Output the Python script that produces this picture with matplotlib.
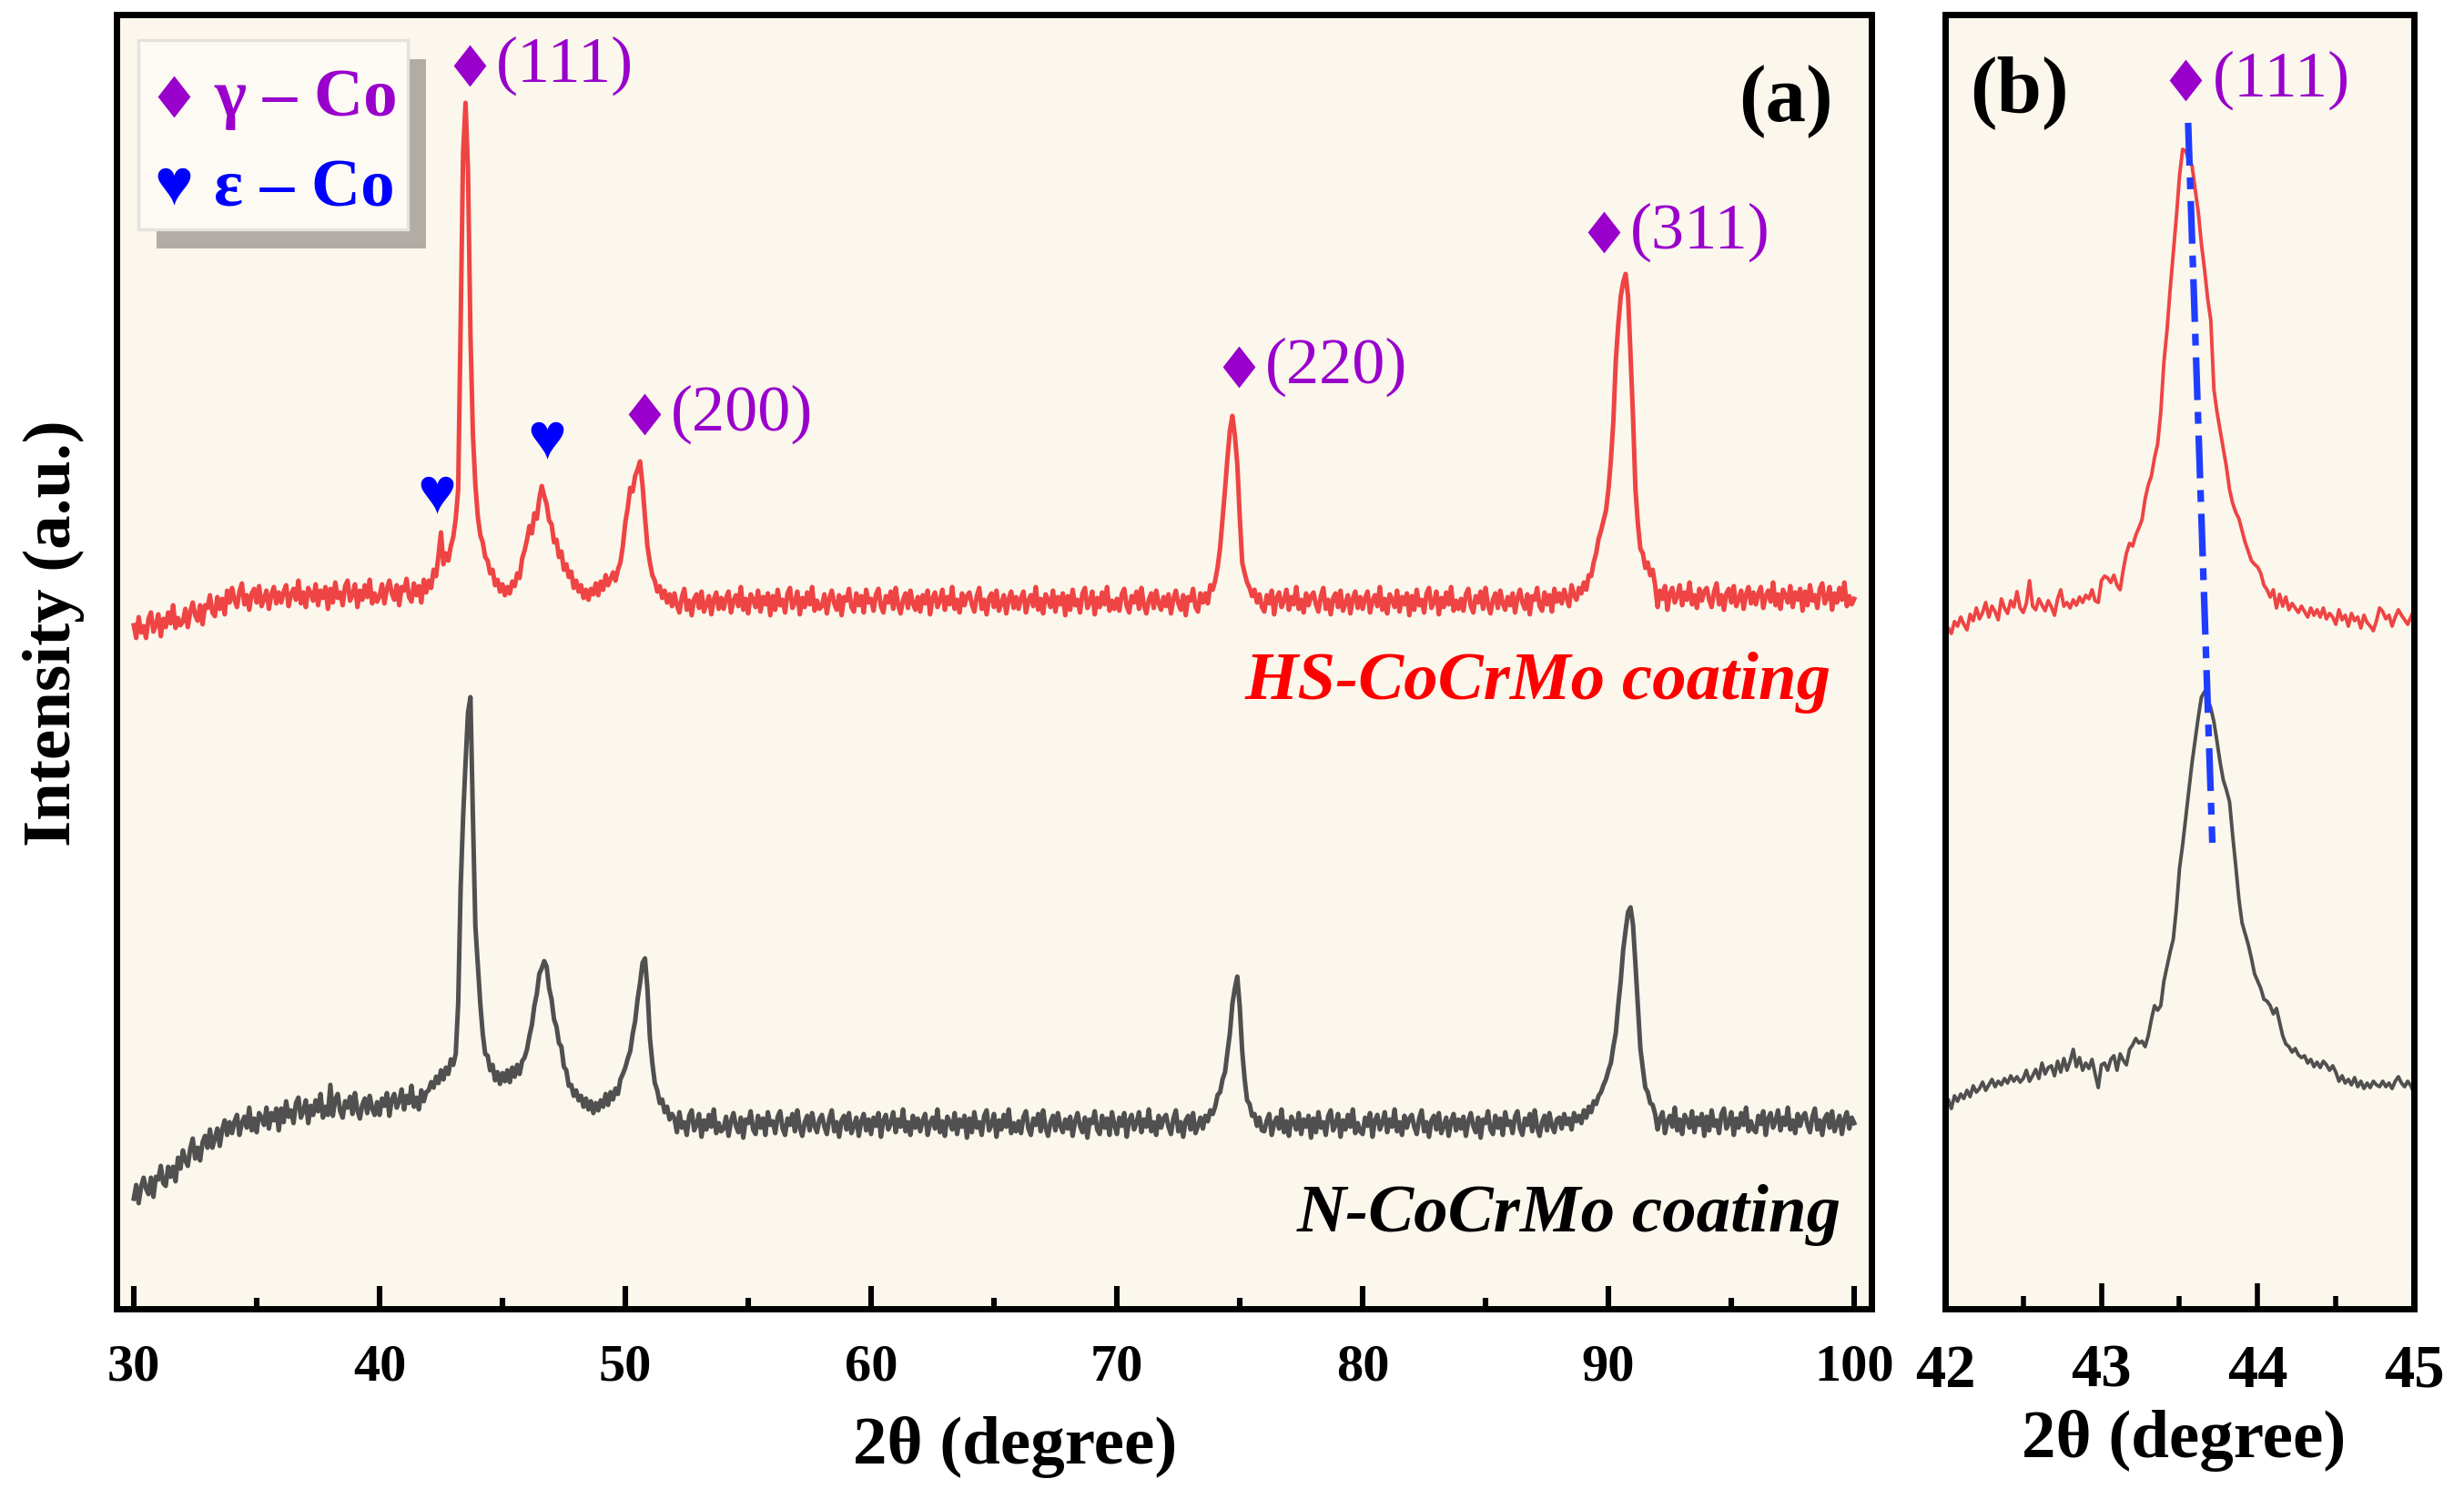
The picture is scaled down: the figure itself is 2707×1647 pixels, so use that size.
"""XRD patterns of the N-CoCrMo and HS-CoCrMo coatings -- (a) full 30-100 deg scan,
(b) close-up of the gamma-Co (111) reflection with the peak-shift guide line."""

import matplotlib
matplotlib.use("Agg")
import matplotlib.pyplot as plt
import numpy as np
from matplotlib.patches import Rectangle
from matplotlib.path import Path

plt.rcParams["font.family"] = ["Liberation Serif", "DejaVu Sans"]
plt.rcParams["font.weight"] = "bold"

PURPLE = "#9900cc"
BLUE = "#0000ff"
RED_LINE = "#ef4444"
GREY_LINE = "#505050"
AX_BG = "#fbf7ec"

# ---------------------------------------------------------------------------
# data -- intensities in a.u.
# ---------------------------------------------------------------------------
two_theta_a = np.linspace(30.0, 100.0, 701)  # 0.1 deg steps, one row = 2 deg

hs_a = np.array([
    751, 737, 760, 743, 750, 737, 758, 765, 744, 751, 763, 739, 758, 749, 765, 753, 773, 748, 759, 751,
    755, 769, 749, 766, 776, 762, 756, 773, 752, 773, 770, 784, 765, 761, 782, 769, 780, 763, 789, 776,
    792, 779, 771, 788, 797, 774, 784, 768, 786, 791, 776, 794, 772, 780, 789, 769, 785, 793, 775, 787,
    776, 788, 795, 772, 785, 791, 779, 800, 775, 787, 771, 792, 786, 778, 796, 773, 789, 781, 793, 769,
    791, 776, 798, 781, 787, 773, 794, 800, 778, 784, 796, 771, 789, 779, 795, 782, 801, 775, 786, 777,
    783, 796, 775, 791, 800, 786, 779, 795, 773, 793, 789, 802, 782, 777, 797, 784, 794, 776, 801, 787,
    800, 792, 812, 805, 828, 853, 818, 830, 822, 838, 848, 868, 900, 1080, 1270, 1325, 1250, 1070, 960, 905,
    870, 850, 842, 826, 822, 808, 812, 795, 801, 788, 796, 784, 793, 786, 799, 794, 808, 803, 824, 833,
    845, 860, 852, 874, 868, 890, 904, 893, 884, 866, 862, 842, 845, 826, 832, 812, 818, 804, 810, 792,
    800, 788, 795, 781, 790, 779, 791, 785, 797, 784, 799, 790, 806, 795, 802, 809, 800, 812, 820, 838,
    864, 880, 902, 898, 915, 922, 931, 905, 870, 838, 820, 806, 800, 788, 794, 781, 789, 776, 785, 772,
    786, 773, 765, 782, 791, 768, 778, 762, 780, 785, 770, 788, 766, 774, 783, 763, 779, 787, 769, 781,
    769, 781, 788, 765, 778, 784, 772, 793, 768, 780, 764, 785, 779, 771, 789, 766, 782, 774, 786, 762,
    783, 768, 790, 773, 779, 765, 786, 792, 770, 776, 788, 763, 781, 771, 787, 774, 793, 767, 778, 769,
    772, 785, 764, 780, 789, 775, 768, 784, 762, 782, 778, 791, 771, 766, 786, 773, 783, 765, 790, 776,
    780, 767, 785, 791, 772, 765, 783, 776, 788, 769, 792, 773, 764, 779, 786, 770, 789, 775, 768, 782,
    766, 784, 775, 789, 763, 781, 787, 771, 778, 790, 768, 782, 774, 793, 769, 779, 765, 786, 773, 783,
    787, 774, 766, 783, 792, 769, 779, 763, 781, 786, 771, 789, 767, 775, 784, 764, 780, 788, 770, 782,
    769, 781, 788, 765, 778, 784, 772, 793, 768, 780, 764, 785, 779, 771, 789, 766, 782, 774, 786, 762,
    783, 768, 790, 773, 779, 765, 786, 792, 770, 776, 788, 763, 781, 771, 787, 774, 793, 767, 778, 769,
    780, 767, 785, 791, 772, 765, 783, 776, 788, 769, 792, 773, 764, 779, 786, 770, 789, 775, 768, 782,
    772, 785, 764, 780, 789, 775, 768, 784, 762, 782, 778, 791, 771, 766, 786, 776, 786, 775, 795, 790,
    800, 815, 836, 868, 900, 935, 965, 981, 960, 928, 870, 820, 808, 798, 792, 783, 790, 776, 785, 771,
    766, 784, 775, 789, 763, 781, 787, 771, 778, 790, 768, 782, 774, 793, 769, 779, 765, 786, 773, 783,
    787, 774, 766, 783, 792, 769, 779, 763, 781, 786, 771, 789, 767, 775, 784, 764, 780, 788, 770, 782,
    769, 781, 788, 765, 778, 784, 772, 793, 768, 780, 764, 785, 779, 771, 789, 766, 782, 774, 786, 762,
    783, 768, 790, 773, 779, 765, 786, 792, 770, 776, 788, 763, 781, 771, 787, 774, 793, 767, 778, 769,
    780, 767, 785, 791, 772, 765, 783, 776, 788, 769, 792, 773, 764, 779, 786, 770, 789, 775, 768, 782,
    773, 786, 765, 781, 790, 776, 769, 785, 763, 783, 779, 792, 772, 767, 787, 774, 784, 766, 791, 777,
    786, 775, 790, 781, 772, 795, 784, 779, 792, 786, 798, 790, 806, 805, 820, 830, 846, 855, 866, 877,
    900, 932, 975, 1042, 1081, 1112, 1128, 1137, 1112, 1048, 980, 900, 862, 835, 830, 814, 820, 806, 812, 795,
    771, 789, 780, 794, 768, 786, 792, 776, 783, 795, 773, 787, 779, 798, 774, 784, 770, 791, 778, 788,
    792, 779, 771, 788, 797, 774, 784, 768, 786, 791, 776, 794, 772, 780, 789, 769, 785, 793, 775, 787,
    774, 786, 793, 770, 783, 789, 777, 798, 773, 785, 769, 790, 784, 776, 794, 771, 787, 779, 791, 767,
    788, 773, 795, 778, 784, 770, 791, 797, 775, 781, 793, 768, 786, 776, 792, 779, 798, 772, 783, 774,
    780,
])

n_a = np.array([
    121, 136, 116, 134, 144, 132, 126, 144, 123, 145, 142, 157, 138, 135, 156, 145, 156, 140, 166, 154,
    174, 163, 157, 176, 187, 165, 177, 163, 183, 190, 177, 197, 177, 187, 198, 179, 197, 207, 191, 205,
    193, 206, 213, 191, 204, 211, 199, 221, 196, 209, 194, 215, 210, 202, 221, 198, 215, 207, 220, 196,
    220, 205, 228, 211, 218, 204, 226, 232, 210, 217, 229, 204, 223, 213, 229, 217, 236, 210, 222, 213,
    246, 212, 230, 236, 217, 210, 228, 221, 233, 214, 237, 218, 209, 224, 231, 215, 234, 220, 213, 227,
    213, 231, 223, 237, 212, 230, 236, 221, 228, 241, 219, 234, 226, 245, 222, 232, 219, 240, 228, 238,
    240, 249, 243, 255, 248, 262, 252, 265, 258, 274, 268, 280, 335, 462, 540, 600, 655, 672, 540, 420,
    378, 335, 302, 280, 278, 262, 268, 251, 260, 247, 259, 250, 262, 249, 265, 255, 268, 258, 272, 276,
    285, 300, 312, 333, 346, 368, 374, 382, 376, 352, 340, 318, 310, 292, 288, 266, 262, 245, 246, 234,
    240, 229, 234, 222, 231, 219, 228, 215, 226, 218, 229, 222, 236, 224, 238, 230, 242, 236, 252, 258,
    265, 275, 283, 302, 316, 340, 358, 380, 385, 352, 298, 270, 248, 240, 226, 230, 216, 222, 208, 214,
    209, 194, 216, 199, 205, 191, 212, 218, 196, 202, 214, 189, 207, 197, 213, 200, 219, 193, 204, 195,
    198, 211, 190, 206, 215, 201, 194, 210, 188, 208, 204, 217, 197, 192, 212, 199, 209, 191, 216, 202,
    206, 193, 211, 217, 198, 191, 209, 202, 214, 195, 218, 199, 190, 205, 212, 196, 215, 201, 194, 208,
    213, 200, 192, 209, 218, 195, 205, 189, 207, 212, 197, 215, 193, 201, 210, 190, 206, 214, 196, 208,
    192, 210, 201, 215, 189, 207, 213, 197, 204, 216, 194, 208, 200, 219, 195, 205, 191, 212, 199, 209,
    195, 207, 214, 191, 204, 210, 198, 219, 194, 206, 190, 211, 205, 197, 215, 192, 208, 200, 212, 188,
    209, 194, 216, 199, 205, 191, 212, 218, 196, 202, 214, 189, 207, 197, 213, 200, 219, 193, 204, 195,
    206, 193, 211, 217, 198, 191, 209, 202, 214, 195, 218, 199, 190, 205, 212, 196, 215, 201, 194, 208,
    198, 211, 190, 206, 215, 201, 194, 210, 188, 208, 204, 217, 197, 192, 212, 199, 209, 191, 216, 202,
    192, 210, 201, 215, 189, 207, 213, 197, 204, 216, 194, 208, 200, 219, 195, 205, 191, 212, 199, 209,
    213, 200, 192, 209, 218, 195, 205, 189, 207, 212, 197, 215, 193, 201, 210, 198, 212, 206, 218, 214,
    222, 235, 238, 252, 260, 282, 303, 335, 352, 365, 332, 283, 252, 229, 225, 212, 214, 201, 210, 196,
    195, 207, 214, 191, 204, 210, 198, 219, 194, 206, 190, 211, 205, 197, 215, 192, 208, 200, 212, 188,
    209, 194, 216, 199, 205, 191, 212, 218, 196, 202, 214, 189, 207, 197, 213, 200, 219, 193, 204, 195,
    192, 210, 201, 215, 189, 207, 213, 197, 204, 216, 194, 208, 200, 219, 195, 205, 191, 212, 199, 209,
    213, 200, 192, 209, 218, 195, 205, 189, 207, 212, 197, 215, 193, 201, 210, 190, 206, 214, 196, 208,
    198, 211, 190, 206, 215, 201, 194, 210, 188, 208, 204, 217, 197, 192, 212, 199, 209, 191, 216, 202,
    206, 193, 211, 217, 198, 191, 209, 202, 214, 195, 218, 199, 190, 205, 212, 196, 215, 201, 194, 208,
    210, 198, 214, 203, 209, 197, 215, 206, 212, 204, 218, 210, 222, 216, 228, 225, 234, 238, 246, 252,
    262, 270, 288, 303, 334, 360, 394, 416, 436, 441, 422, 378, 332, 286, 264, 243, 238, 226, 224, 214,
    197, 209, 216, 193, 206, 212, 200, 221, 196, 208, 192, 213, 207, 199, 217, 194, 210, 202, 214, 190,
    211, 196, 218, 201, 207, 193, 214, 220, 198, 204, 216, 191, 209, 199, 215, 202, 221, 195, 206, 197,
    194, 212, 203, 217, 191, 209, 215, 199, 206, 218, 196, 210, 202, 221, 197, 207, 193, 214, 201, 211,
    215, 202, 194, 211, 220, 197, 207, 191, 209, 214, 199, 217, 195, 203, 212, 192, 208, 216, 198, 210,
    204,
])

two_theta_b = np.linspace(42.0, 45.0, 151)  # 0.02 deg steps

hs_b = np.array([
    739, 748, 742, 755, 750, 760, 752, 746, 763, 756,
    770, 758, 765, 776, 760, 772, 766, 757, 780, 770,
    764, 778, 771, 788, 770, 765, 775, 800, 772, 768,
    780, 773, 767, 778, 771, 762, 780, 790, 772, 776,
    770, 779, 773, 782, 776, 784, 780, 790, 778, 776,
    800, 805, 803, 798, 806, 795, 790, 812, 830, 841,
    838, 850, 858, 867, 890, 905, 915, 935, 950, 985,
    1040, 1075, 1120, 1160, 1200, 1245, 1274, 1272, 1262, 1256,
    1230, 1205, 1170, 1142, 1110, 1086, 1010, 985, 965, 945,
    925, 900, 885, 875, 868, 855, 842, 832, 822, 818,
    815, 808, 795, 790, 782, 790, 770, 785, 772, 782,
    768, 775, 770, 765, 772, 766, 760, 770, 762, 768,
    760, 770, 758, 764, 760, 752, 768, 757, 762, 750,
    764, 756, 760, 748, 762, 754, 750, 745, 756, 770,
    766, 758, 762, 750, 760, 768, 762, 757, 752, 760,
    768,
])

n_b = np.array([
    222, 230, 220, 234, 228, 236, 231, 240, 233, 245,
    238, 242, 249, 240, 246, 252, 244, 250, 246, 253,
    248, 256, 250, 255, 249, 253, 262, 250, 256, 263,
    253, 270, 258, 265, 267, 256, 272, 260, 275, 262,
    272, 285, 266, 276, 262, 270, 264, 274, 258, 243,
    268, 270, 262, 274, 278, 262, 280, 273, 268, 285,
    290, 297, 292, 294, 288, 300, 318, 333, 328, 333,
    360, 376, 392, 406, 440, 484, 510, 540, 570, 600,
    625, 650, 672, 678, 670, 660, 645, 623, 600, 581,
    570, 557, 520, 486, 450, 424, 412, 400, 385, 368,
    360, 352, 340, 338, 333, 324, 330, 315, 300, 291,
    288, 282, 286, 279, 276, 278, 270, 274, 266, 271,
    265, 272, 268, 262, 267, 260, 250, 256, 248, 252,
    246, 254, 244, 250, 242, 248, 243, 250, 246, 244,
    250, 244, 248, 242, 250, 255, 248, 244, 250, 245,
    237,
])

# peak labels: gamma-Co reflections (diamonds) and epsilon-Co (hearts)
gamma_labels = ["(111)", "(200)", "(220)", "(311)"]
gamma_x = [43.67, 50.78, 74.96, 89.8]
gamma_y = [1366, 983, 1035, 1183]
eps_x = [42.33, 46.8]
eps_y = [891, 951]

# (111) shift guide in panel b
shift_x = [43.555, 43.71]
shift_y = [1303, 512]

YMAX = 1422

# diamond marker a bit taller than wide, like the one in the figure
DIAMOND = Path([(0, 1), (0.78, 0), (0, -1), (-0.78, 0), (0, 1)],
               [Path.MOVETO, Path.LINETO, Path.LINETO, Path.LINETO, Path.CLOSEPOLY])


def _diamond(ax, x, y, **kw):
    ax.plot([x], [y], marker=DIAMOND, ms=16.5, color=PURPLE, mec="none", ls="none",
            clip_on=False, **kw)


# ---------------------------------------------------------------------------
# figure
# ---------------------------------------------------------------------------
fig = plt.figure(figsize=(13.535, 8.235), dpi=200)
ax_a = fig.add_axes([0.0473, 0.1269, 0.7122, 0.8634])
ax_b = fig.add_axes([0.7894, 0.1269, 0.1903, 0.8634])

for ax in (ax_a, ax_b):
    ax.set_facecolor(AX_BG)
    ax.set_ylim(0, YMAX)
    ax.set_yticks([])
    for sp in ax.spines.values():
        sp.set_linewidth(2.5)

# panel (a)
ax_a.plot(two_theta_a, hs_a, color=RED_LINE, lw=1.8)
ax_a.plot(two_theta_a, n_a, color=GREY_LINE, lw=1.8)
ax_a.set_xlim(29.3, 100.7)
ax_a.set_xticks(np.arange(30, 101, 10))
ax_a.set_xticks(np.arange(35, 100, 10), minor=True)
ax_a.tick_params(axis="x", which="major", direction="in", length=9, width=2.2, labelsize=21, pad=14)
ax_a.tick_params(axis="x", which="minor", direction="in", length=4.5, width=2.2)
ax_a.set_xlabel("2\u03b8 (degree)", fontsize=27, fontweight="bold")
ax_a.xaxis.set_label_coords(0.512, -0.083)
ax_a.set_ylabel("Intensity (a.u.)", fontsize=27, fontweight="bold")
ax_a.yaxis.set_label_coords(-0.018, 0.522)

for lab, x, y in zip(gamma_labels, gamma_x, gamma_y):
    _diamond(ax_a, x, y)
    ax_a.annotate(lab, (x, y), xytext=(10.5, 0), textcoords="offset points",
                  color=PURPLE, fontsize=26, fontweight="normal", ha="left", va="center")
for x, y in zip(eps_x, eps_y):
    ax_a.text(x, y, "\u2665", color=BLUE, fontsize=26, ha="center", va="center")

ax_a.text(0.978, 0.933, "(a)", transform=ax_a.transAxes, fontsize=32,
          fontweight="bold", ha="right", va="center")
ax_a.text(0.977, 0.471, "HS-CoCrMo coating", transform=ax_a.transAxes, color="#ff0000",
          fontsize=27, fontweight="bold", fontstyle="italic", ha="right", va="baseline")
ax_a.text(0.983, 0.060, "N-CoCrMo coating", transform=ax_a.transAxes, color="black",
          fontsize=27, fontweight="bold", fontstyle="italic", ha="right", va="baseline")

# legend box drawn by hand -- offset grey shadow under a pale box
ax_a.add_patch(Rectangle((0.0228, 0.8192), 0.1536, 0.146, transform=ax_a.transAxes,
                         facecolor="#b1ada6", edgecolor="none", zorder=5))
ax_a.add_patch(Rectangle((0.0124, 0.834), 0.1536, 0.146, transform=ax_a.transAxes,
                         facecolor="#fcfaf3", edgecolor="#e4e2dc", lw=1.2, zorder=6))
ax_a.plot([0.0327], [0.937], transform=ax_a.transAxes, marker=DIAMOND, ms=16.5,
          color=PURPLE, mec="none", ls="none", zorder=7)
ax_a.text(0.0555, 0.922, "\u03b3 \u2013 Co", transform=ax_a.transAxes, color=PURPLE,
          fontsize=27, fontweight="bold", ha="left", va="baseline", zorder=7)
ax_a.text(0.0327, 0.865, "\u2665", transform=ax_a.transAxes, color=BLUE,
          fontsize=26, ha="center", va="center", zorder=7)
ax_a.text(0.0555, 0.852, "\u03b5 \u2013 Co", transform=ax_a.transAxes, color=BLUE,
          fontsize=27, fontweight="bold", ha="left", va="baseline", zorder=7)

# panel (b)
ax_b.plot(two_theta_b, hs_b, color=RED_LINE, lw=1.4)
ax_b.plot(two_theta_b, n_b, color=GREY_LINE, lw=1.4)
ax_b.plot(shift_x, shift_y, color="#1f3dff", lw=2.6, linestyle=(0, (6.5, 1.8, 1.8, 1.8)))
ax_b.set_xlim(42, 45)
ax_b.set_xticks([42, 43, 44, 45])
ax_b.set_xticks([42.5, 43.5, 44.5], minor=True)
ax_b.tick_params(axis="x", which="major", direction="in", length=10, width=2.0, labelsize=24, pad=14)
ax_b.tick_params(axis="x", which="minor", direction="in", length=5, width=2.0)
ax_b.set_xlabel("2\u03b8 (degree)", fontsize=27, fontweight="bold")
ax_b.xaxis.set_label_coords(0.509, -0.078)

_diamond(ax_b, 43.54, 1350)
ax_b.annotate("(111)", (43.54, 1350), xytext=(10.5, 0), textcoords="offset points",
              color=PURPLE, fontsize=26, fontweight="normal", ha="left", va="center")
ax_b.text(0.052, 0.940, "(b)", transform=ax_b.transAxes, fontsize=32,
          fontweight="bold", ha="left", va="center")

fig.savefig("out.png", dpi=200, facecolor="white")
